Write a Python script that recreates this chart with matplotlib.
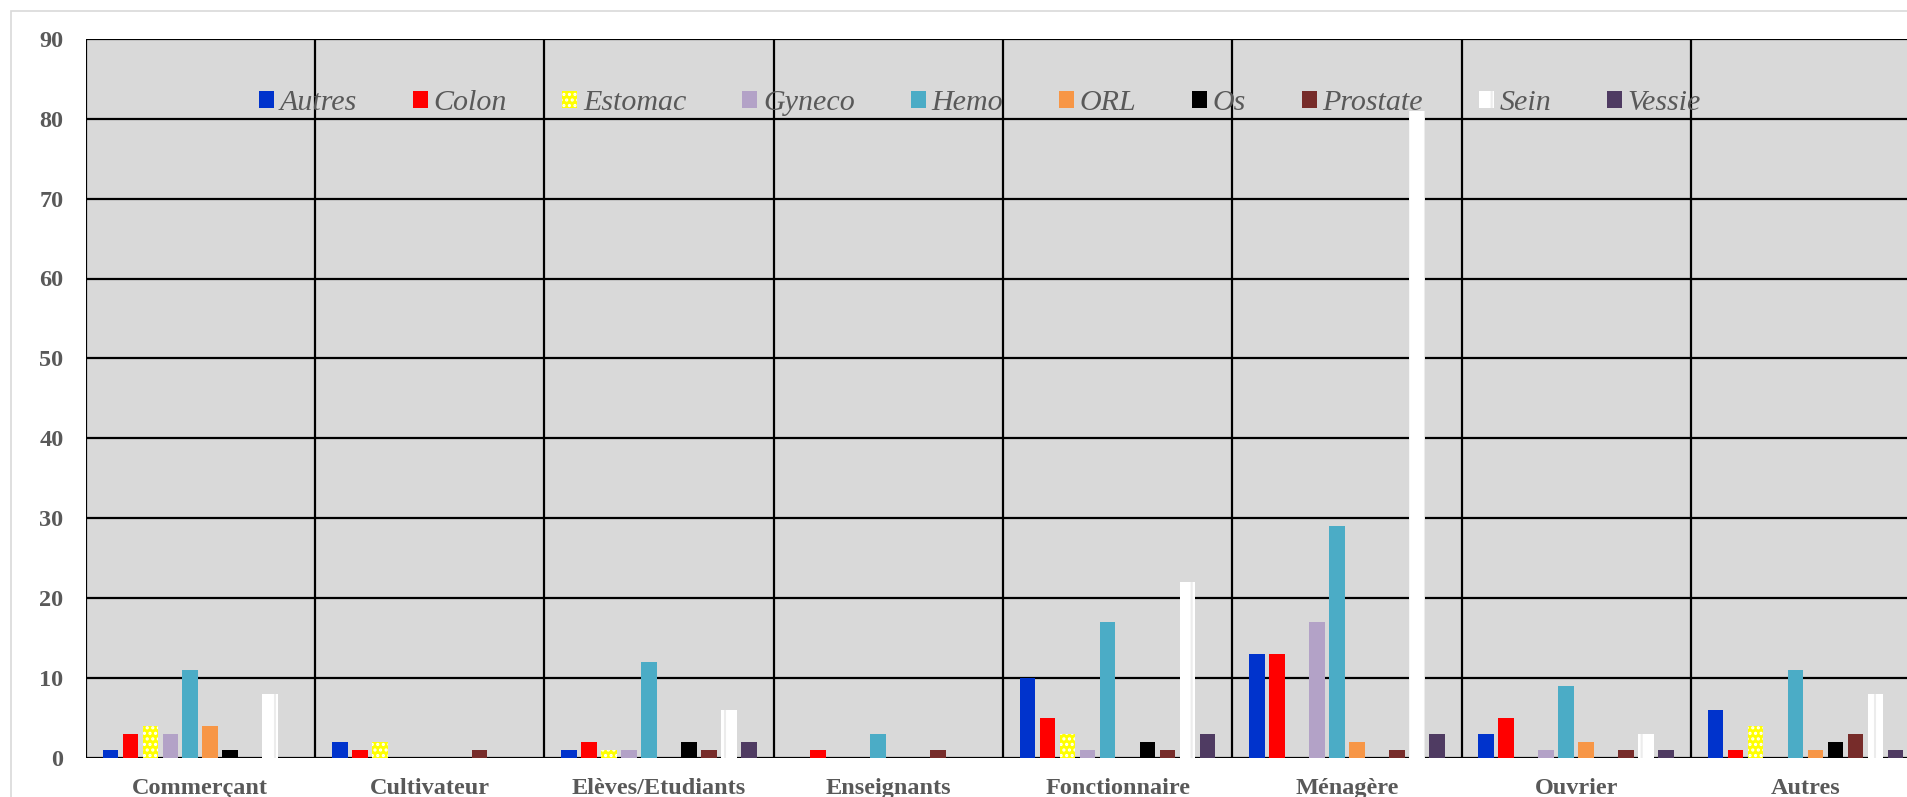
import matplotlib
matplotlib.use("Agg")
import matplotlib.pyplot as plt
from matplotlib.patches import Rectangle
import numpy as np

# catégories professionnelles et localisations
categories = [
    "Commerçant",
    "Cultivateur",
    "Elèves/Etudiants",
    "Enseignants",
    "Fonctionnaire",
    "Ménagère",
    "Ouvrier",
    "Autres",
]
series = ["Autres", "Colon", "Estomac", "Gyneco", "Hemo", "ORL", "Os", "Prostate", "Sein", "Vessie"]

autres = [1, 2, 1, 0, 10, 13, 3, 6]
colon = [3, 1, 2, 1, 5, 13, 5, 1]
estomac = [4, 2, 1, 0, 3, 0, 0, 4]
gyneco = [3, 0, 1, 0, 1, 17, 1, 0]
hemo = [11, 0, 12, 3, 17, 29, 9, 11]
orl = [4, 0, 0, 0, 0, 2, 2, 1]
os_ = [1, 0, 2, 0, 2, 0, 0, 2]
prostate = [0, 1, 1, 1, 1, 1, 1, 3]
sein = [8, 0, 6, 0, 22, 81, 3, 8]
vessie = [0, 0, 2, 0, 3, 3, 1, 1]

valeurs = [autres, colon, estomac, gyneco, hemo, orl, os_, prostate, sein, vessie]

couleurs = ["#0033CC", "#FF0000", "#FFFF00", "#B3A2C7", "#4BACC6",
            "#F79646", "#000000", "#772C2A", "#FFFFFF", "#4F3B62"]
hachures = [None, None, "...", None, None, None, None, None, "|", None]
bords = [None, None, "white", None, None, None, None, None, "#ececec", None]

plt.rcParams["font.family"] = ["Liberation Serif", "DejaVu Serif"]
plt.rcParams["hatch.linewidth"] = 1.5

W, H = 1907, 797
fig = plt.figure(figsize=(W / 100, H / 100), dpi=100)
ax = fig.add_axes([85.7 / W, (H - 757.5) / H, 1834.4 / W, (757.5 - 39) / H])
ax.set_facecolor("#D9D9D9")

# cadre gris clair autour du graphique
fig.patches.append(Rectangle((10.5 / W, -0.1), 1.2, 1.1 - 10.5 / H, transform=fig.transFigure,
                             fill=False, edgecolor="#D9D9D9", linewidth=1.2, zorder=0))

x = np.arange(len(categories))
pas = 0.0872
largeur = 0.0685
for i, nom in enumerate(series):
    pos = x + (i - 4.5) * pas
    if hachures[i]:
        kw = dict(hatch=hachures[i], edgecolor=bords[i], linewidth=0)
    else:
        kw = dict(edgecolor="none", linewidth=0)
    ax.bar(pos, valeurs[i], width=largeur, color=couleurs[i], label=nom, zorder=3, **kw)

ax.set_xlim(-0.5, len(categories) - 0.5)
ax.set_ylim(0, 90)
ax.set_yticks(np.arange(0, 91, 10))
ax.set_xticks(x)
ax.set_xticklabels(categories)
ax.set_xticks(np.arange(-0.5, len(categories), 1), minor=True)

gris = "#595959"
ax.tick_params(axis="both", which="both", length=0)
ax.tick_params(axis="y", pad=16, labelsize=17.5, labelcolor=gris)
ax.tick_params(axis="x", pad=15, labelsize=17.5, labelcolor=gris)
for t in ax.get_xticklabels() + ax.get_yticklabels():
    t.set_fontweight("bold")

ax.grid(axis="y", color="black", linewidth=1.6, zorder=1)
ax.grid(axis="x", which="minor", color="black", linewidth=1.6, zorder=1)
ax.grid(axis="x", which="major", visible=False)
ax.set_axisbelow(True)
for s in ax.spines.values():
    s.set_visible(False)

leg = ax.legend(loc="center", bbox_to_anchor=(980 / W, 1 - 103 / H),
                bbox_transform=fig.transFigure, ncol=10, frameon=False,
                prop={"style": "italic", "size": 21.6}, labelcolor=gris,
                handlelength=0.5, handleheight=0.5, handletextpad=0.2,
                columnspacing=1.85, borderpad=0)

fig.savefig("out.png", dpi=100)
